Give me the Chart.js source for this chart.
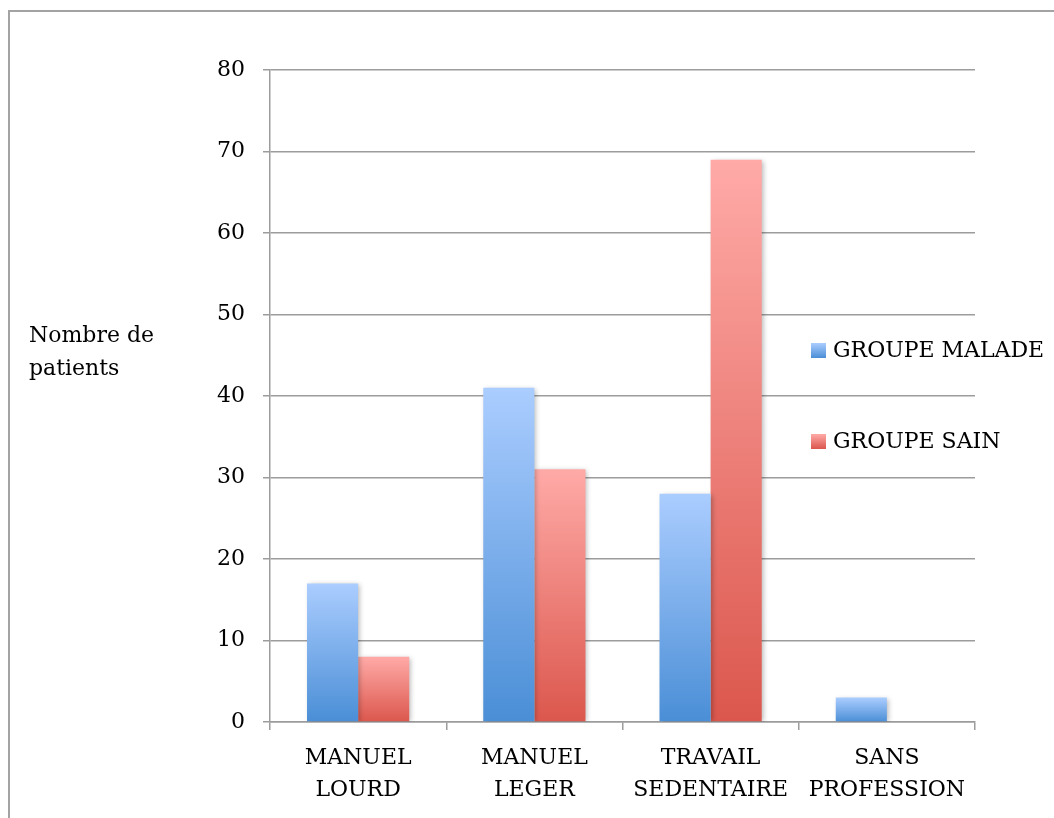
<!DOCTYPE html>
<html>
<head>
<meta charset="utf-8">
<script src="https://cdn.jsdelivr.net/npm/chart.js@4/dist/chart.umd.min.js"></script>
<style>
  html, body { margin: 0; padding: 0; background: #fff; }
  #wrap { position: relative; width: 1054px; height: 818px; overflow: hidden; }
  #frame { position: absolute; left: 8px; top: 10px; width: 1200px; height: 1000px;
           border-left: 2px solid #a3a3a3; border-top: 2px solid #a3a3a3; }
  canvas { position: absolute; left: 0; top: 0; }
</style>
</head>
<body>
<div id="wrap">
  <div id="frame"></div>
  <canvas id="c" width="1054" height="818"></canvas>
</div>
<script>
// Occupational categories and patient counts per group
const categories = [["MANUEL", "LOURD"], ["MANUEL", "LEGER"], ["TRAVAIL", "SEDENTAIRE"], ["SANS", "PROFESSION"]];
const seriesNames = ["GROUPE MALADE", "GROUPE SAIN"];
const groupeMalade = [17, 41, 28, 3];
const groupeSain = [8, 31, 69, 0];
const yTicks = [0, 10, 20, 30, 40, 50, 60, 70, 80];
const yTitle = ["Nombre de", "patients"];

const FONT = "'DejaVu Serif', 'Liberation Serif', serif";
const TEXT = '#000';
const GRID = '#9c9c9c';

// light top -> deeper bottom, per bar
const shades = [
  { top: '#abcdff', bottom: '#4a8ed6' },
  { top: '#ffaaa7', bottom: '#db574d' }
];

function barFill(i) {
  return function (ctx) {
    const s = shades[i];
    if (ctx.type !== 'data') return s.bottom;
    const y = ctx.chart.scales.y;
    if (!y) return s.bottom;
    const t = y.getPixelForValue(ctx.raw);
    const b = y.getPixelForValue(0);
    if (!isFinite(t) || !isFinite(b) || Math.abs(b - t) < 1) return s.bottom;
    const g = ctx.chart.ctx.createLinearGradient(0, t, 0, b);
    g.addColorStop(0, s.top);
    g.addColorStop(1, s.bottom);
    return g;
  };
}

const barShadow = {
  id: 'barShadow',
  beforeDatasetsDraw(chart) {
    const c = chart.ctx;
    c.save();
    c.shadowColor = 'rgba(0,0,0,0.28)';
    c.shadowBlur = 5;
    c.shadowOffsetX = 2;
    c.shadowOffsetY = 1;
  },
  afterDatasetsDraw(chart) {
    chart.ctx.restore();
  }
};

// Axis title (horizontal, two lines) and legend at the right of the plot
const annotations = {
  id: 'annotations',
  afterDraw(chart) {
    const c = chart.ctx;
    const area = chart.chartArea;
    c.save();
    c.fillStyle = TEXT;
    c.font = '22px ' + FONT;
    c.textAlign = 'left';
    c.textBaseline = 'alphabetic';
    yTitle.forEach((line, k) => c.fillText(line, 29, 342 + k * 33));

    const mid = (area.top + area.bottom) / 2;
    const gap = 91;
    chart.data.datasets.forEach((ds, i) => {
      const cy = mid - gap / 2 + i * gap;
      const x = 811, size = 15;
      const g = c.createLinearGradient(0, cy - size / 2, 0, cy + size / 2);
      g.addColorStop(0, shades[i].top);
      g.addColorStop(1, shades[i].bottom);
      c.fillStyle = g;
      c.fillRect(x, cy - size / 2, size, size);
      c.fillStyle = TEXT;
      c.textBaseline = 'middle';
      c.fillText(ds.label, x + 22, cy + 1);
    });
    c.restore();
  }
};

new Chart(document.getElementById('c'), {
  type: 'bar',
  data: {
    labels: categories,
    datasets: [
      { label: seriesNames[0], data: groupeMalade, backgroundColor: barFill(0), borderWidth: 0 },
      { label: seriesNames[1], data: groupeSain, backgroundColor: barFill(1), borderWidth: 0 }
    ]
  },
  options: {
    responsive: false,
    animation: false,
    devicePixelRatio: 1,
    layout: { padding: { left: 0, top: 70, right: 79, bottom: 0 } },
    datasets: { bar: { categoryPercentage: 0.58, barPercentage: 1.0 } },
    plugins: { legend: { display: false }, tooltip: { enabled: false } },
    scales: {
      x: {
        grid: { offset: true, drawOnChartArea: false, color: GRID, lineWidth: 1.5, tickLength: 8 },
        border: { color: GRID, width: 1.5 },
        ticks: { color: TEXT, font: { family: FONT, size: 22, lineHeight: 1.45 }, padding: 12, maxRotation: 0 },
        afterFit(s) { s.height = 96; }
      },
      y: {
        min: 0, max: 80,
        afterBuildTicks(s) { s.ticks = yTicks.map(v => ({ value: v })); },
        grid: { color: GRID, lineWidth: 1.5, tickLength: 7 },
        border: { color: GRID, width: 1.5 },
        ticks: { color: TEXT, font: { family: FONT, size: 22 }, padding: 18 },
        afterFit(s) { s.width = 270; }
      }
    }
  },
  plugins: [barShadow, annotations]
});
</script>
</body>
</html>
